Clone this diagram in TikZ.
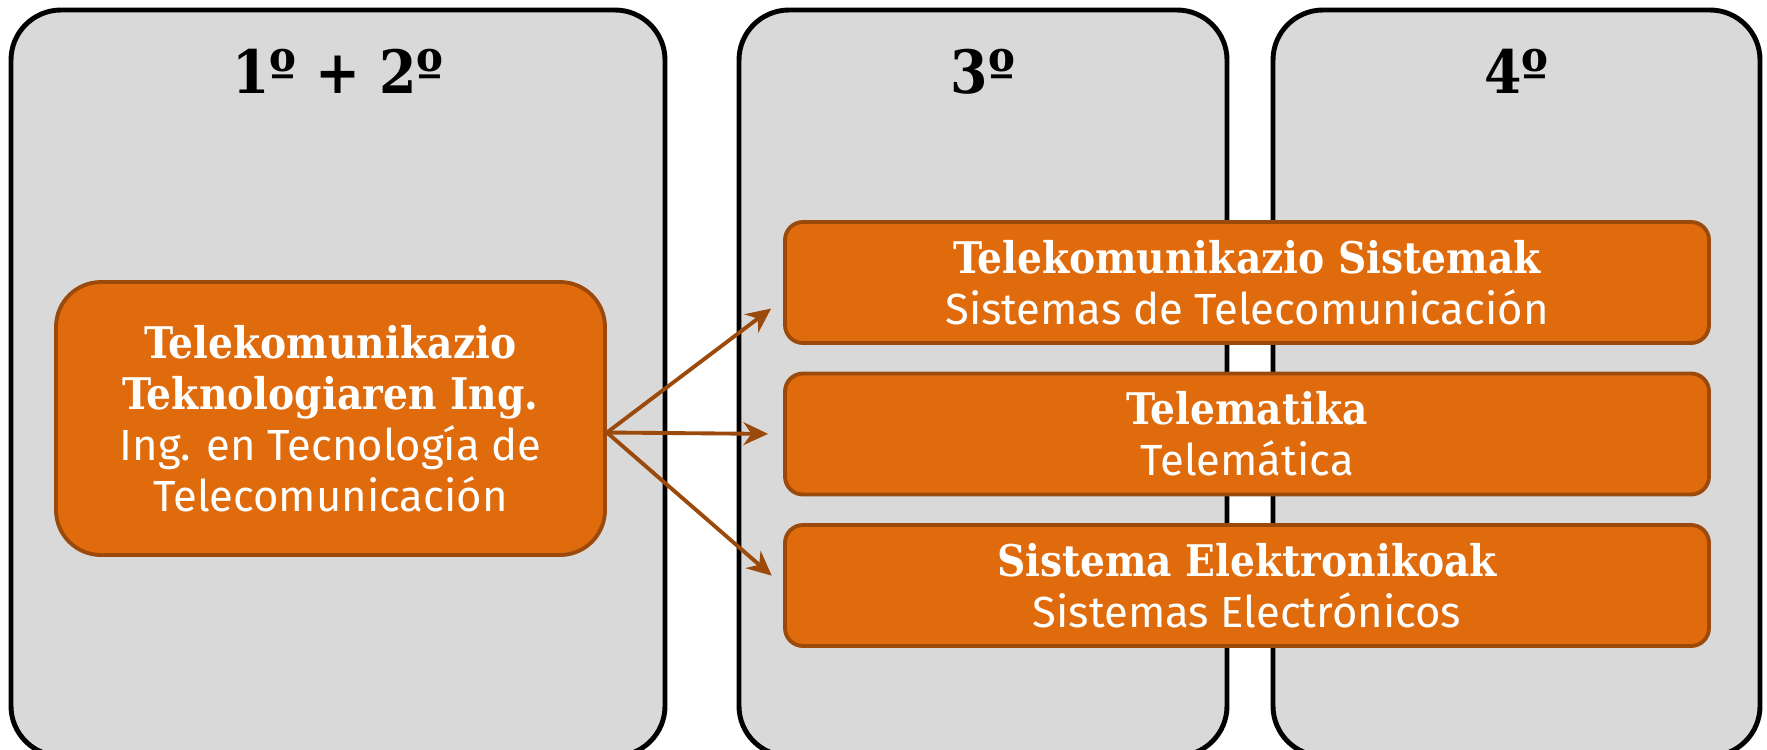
\documentclass[tikz,border=0pt]{standalone}
\usepackage{fontspec}
\setmainfont{Fira Sans}
\newfontfamily\slabfont{DejaVu Serif Condensed}
\usepackage{xcolor}
\usetikzlibrary{arrows.meta, positioning}

\definecolor{panelgray}{HTML}{D9D9D9}
\definecolor{degorange}{HTML}{DF6B0C}
\definecolor{degbrown}{HTML}{9B4A0C}

\begin{document}
\begin{tikzpicture}[node distance=1.515cm,on grid]
  \tikzstyle{year}=[draw=black,line width=1.4pt,fill=panelgray,rounded corners=0.5cm,inner sep=0pt,minimum height=7.46cm]
  \tikzstyle{yeartitle}=[font=\slabfont\bfseries\fontsize{17}{20}\selectfont]
  \tikzstyle{degree}=[draw=degbrown,line width=1.1pt,fill=degorange,text=white,align=center,inner sep=0pt,font=\fontsize{12.4}{14.5}\selectfont]
  \tikzstyle{mention}=[degree,rounded corners=0.18cm,minimum width=9.24cm,minimum height=1.21cm]
  \tikzstyle{link}=[-{Stealth[length=7pt,width=6.5pt]},draw=degbrown,line width=1.1pt,shorten >=0.15cm]

  \useasboundingbox (0,0) rectangle (17.67,7.49);

  % years
  \node[year,minimum width=6.54cm](y12) at (3.38,3.66) {};
  \node[year,minimum width=4.88cm](y3) at (9.83,3.66) {};
  \node[year,minimum width=4.87cm](y4) at (15.165,3.66) {};
  \node[yeartitle] at ([yshift=-0.64cm]y12.north) {1º + 2º};
  \node[yeartitle] at ([yshift=-0.64cm]y3.north) {3º};
  \node[yeartitle] at ([yshift=-0.64cm]y4.north) {4º};

  % degree and mentions
  \node[degree,rounded corners=0.45cm,minimum width=5.49cm,minimum height=2.73cm](grado) at (3.305,3.305)
    {{\slabfont\bfseries Telekomunikazio}\\{\slabfont\bfseries Teknologiaren Ing.}\\Ing. en Tecnología de\\Telecomunicación};
  \node[mention](sistel) at (12.47,4.665)
    {{\slabfont\bfseries Telekomunikazio Sistemak}\\Sistemas de Telecomunicación};
  \node[mention](telem)[below of=sistel]
    {{\slabfont\bfseries Telematika}\\Telemática};
  \node[mention](elec)[below of=telem]
    {{\slabfont\bfseries Sistema Elektronikoak}\\Sistemas Electrónicos};

  \coordinate (fork) at ([yshift=-0.14cm]grado.east);
  \draw[link] (fork) -- ([yshift=-0.17cm]sistel.west);
  \draw[link] (fork) -- (telem.west);
  \draw[link] (fork) -- (elec.west);
\end{tikzpicture}
\end{document}
